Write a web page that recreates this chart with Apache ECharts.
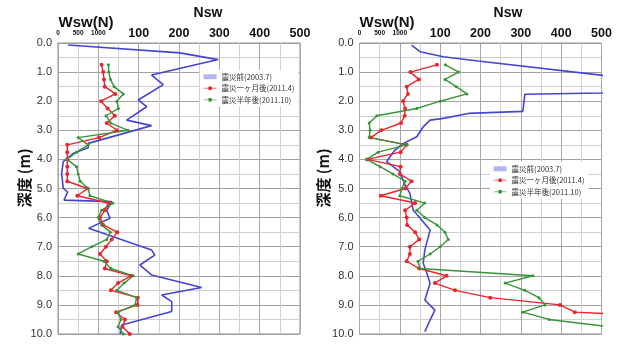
<!DOCTYPE html>
<html>
<head>
<meta charset="utf-8">
<script src="https://cdn.jsdelivr.net/npm/echarts@6/dist/echarts.min.js"></script>
<style>
  html, body { margin: 0; padding: 0; background: #fff; }
  #chart { width: 622px; height: 347px; }
</style>
</head>
<body>
<div id="chart"></div>
<script>
// Combined horizontal scale: -100..0 holds Wsw (0, 500, 1000 N), 0..500 holds Nsw.
var xTickLabels = { '-100': '0', '-50': '500', '0': '1000', '100': '100', '200': '200', '300': '300', '400': '400', '500': '500' };
var depthTicks = ['0.0','1.0','2.0','3.0','4.0','5.0','6.0','7.0','8.0','9.0','10.0'];

var seriesNames = ['震災前(2003.7)', '震災一ヶ月後(2011.4)', '震災半年後(2011.10)'];

// Sounding depths (m) for the post-earthquake surveys
var depths = [0.75, 1.00, 1.25, 1.50, 1.75, 2.00, 2.25, 2.50, 2.75, 3.00,
              3.25, 3.50, 3.75, 4.00, 4.25, 4.50, 4.75, 5.00, 5.25, 5.50,
              5.75, 6.00, 6.25, 6.50, 6.75, 7.00, 7.25, 7.50, 7.75, 8.00,
              8.25, 8.50, 8.75, 9.00, 9.25, 9.50, 9.75, 10.00];

// --- Site A (left panel) ---
var leftBeforeDepth = [0.07, 0.34, 0.57, 1.10, 1.43, 1.96, 2.19, 2.65, 2.84, 3.45, 3.60, 3.79, 4.08, 4.48, 4.99, 5.12, 5.40, 5.45, 5.75, 6.02, 6.37, 7.11, 7.29, 7.63, 7.97, 8.40, 8.66, 8.89, 9.23, 9.69, 10.0];
var leftBeforeValue = [-75, 202, 297, 132, 161, 99, 120, 70, 132, -25, -25, -62, -87, -91, -87, -76, -85, 33, 21, 29, -24, 132, 140, 103, 132, 256, 157, 182, 182, 58, 54];
var leftMonth = [8, 12, 14, 16, 42, 7, 23, 41, 21, 46,
                 2, -77, -77, -77, -77, -77, -77, -27, -52, 25,
                 16, 4, 12, 47, 33, 19, 4, 21, 16, 81,
                 49, 31, 98, 97, 44, 66, 60, 78];
var leftHalfYear = [25, 26, 30, 39, 62, 46, 50, 19, 31, 74,
                    -50, -25, -54, -78, -54, -50, -45, -25, -21, 36,
                    8, 0, 8, 30, 21, -16, -50, 14, 31, 87,
                    64, 46, 95, 91, 49, 56, 49, 62];

// --- Site B (right panel) ---
var rightBeforeDepth = [0.07, 0.30, 0.47, 0.62, 1.30, 1.60, 1.72, 1.76, 2.35, 2.42, 2.59, 2.65, 2.88, 3.22, 3.45, 3.68, 3.90, 4.08, 4.42, 4.88, 5.17, 5.74, 6.08, 6.43, 7.11, 7.57, 7.91, 8.26, 8.83, 9.18, 9.52, 9.92];
var rightBeforeValue = [29, 50, 108, 194, 620, 620, 500, 310, 305, 170, 108, 75, 58, 42, 9, -12, -24, -33, 0, 13, 25, 33, 54, 75, 62, 58, 67, 75, 62, 87, 75, 62];
var rightMonth = [92, 26, 47, 17, 20, 8, 13, 12, 3, -46,
                  -72, 17, 2, -81, 2, 0, 29, 13, -47, 38,
                  13, 17, 18, 38, 48, 25, 25, 17, 48, 116,
                  87, 137, 224, 397, 434, 800, 800, 800];
var rightHalfYear = [113, 146, 112, 140, 166, 100, 42, -57, -76, -74,
                     -76, 17, -54, -82, -49, -17, 13, 5, 0, 62,
                     42, 62, 92, 112, 120, 100, 75, 45, 50, 330,
                     261, 310, 345, 360, 305, 370, 520, 520];

var COLORS = { before: '#4545d4', month: '#e8262c', half: '#379437' };
var LEGEND_ICON = { before: '#b4b4f0', month: '#f28c8c', half: '#9ccf9c' };

function pairs(ys, xs) {
  var out = [];
  for (var i = 0; i < xs.length; i++) out.push([xs[i], ys[i]]);
  return out;
}

var chart = echarts.init(document.getElementById('chart'), null, { renderer: 'canvas' });

var FONT = '"Liberation Sans", Arial, sans-serif';
var GRID_W = 242, GRID_TOP = 43, GRID_H = 291;
var panels = [
  { left: 58, before: [leftBeforeDepth, leftBeforeValue], month: leftMonth, half: leftHalfYear },
  { left: 359.5, before: [rightBeforeDepth, rightBeforeValue], month: rightMonth, half: rightHalfYear }
];

var grids = [], xAxes = [], yAxes = [], series = [];
panels.forEach(function (p, gi) {
  grids.push({ left: p.left, top: GRID_TOP, width: GRID_W, height: GRID_H, containLabel: false,
               show: true, borderColor: '#8c8c8c', borderWidth: 1, backgroundColor: '#fff' });
  // labelled axis with the fine grid (every 50 units)
  xAxes.push({
    type: 'value', gridIndex: gi, position: 'top', min: -100, max: 500, interval: 50,
    axisLine: { show: false }, axisTick: { show: false },
    splitLine: { show: true, lineStyle: { color: '#d2d2d2', width: 1 } },
    axisLabel: {
      margin: 3, fontFamily: FONT,
      formatter: function (v) {
        var t = xTickLabels[String(v)];
        if (t === undefined) return '';
        return v <= 0 ? '{s|' + t + '}' : '{b|' + t + '}';
      },
      rich: {
        s: { fontSize: 6.5, fontWeight: 'bold', color: '#111', fontFamily: FONT, padding: [0, 0, 3, 0] },
        b: { fontSize: 12.5, fontWeight: 'bold', color: '#111', fontFamily: FONT }
      }
    }
  });
  // coarse grid (every 100 units)
  xAxes.push({
    type: 'value', gridIndex: gi, position: 'top', min: -100, max: 500, interval: 100,
    axisLine: { show: false }, axisTick: { show: false }, axisLabel: { show: false },
    splitLine: { show: true, lineStyle: { color: '#a8a8a8', width: 1 } }
  });
  yAxes.push({
    type: 'value', gridIndex: gi, position: 'left', inverse: true, min: 0, max: 10, interval: 0.5,
    axisLine: { show: false }, axisTick: { show: false }, axisLabel: { show: false },
    splitLine: { show: true, lineStyle: { color: '#cfcfcf', width: 1 } }
  });
  yAxes.push({
    type: 'value', gridIndex: gi, position: 'left', inverse: true, min: 0, max: 10, interval: 1,
    axisLine: { show: false }, axisTick: { show: false },
    splitLine: { show: true, lineStyle: { color: '#a0a0a0', width: 1.2 } },
    axisLabel: {
      margin: 6, fontSize: 11, color: '#333', fontFamily: FONT,
      formatter: function (v) { return depthTicks[Math.round(v)]; }
    }
  });
  var xi = gi * 2, yi = gi * 2 + 1;
  series.push({
    name: seriesNames[0], type: 'line', xAxisIndex: xi, yAxisIndex: yi,
    data: pairs(p.before[0], p.before[1]), showSymbol: false, symbol: 'none',
    lineStyle: { color: COLORS.before, width: 1.6 }, itemStyle: { color: COLORS.before },
    animation: false, z: 3
  });
  series.push({
    name: seriesNames[1], type: 'line', xAxisIndex: xi, yAxisIndex: yi,
    data: pairs(depths, p.month), symbol: 'circle', symbolSize: 4,
    lineStyle: { color: COLORS.month, width: 1.4 }, itemStyle: { color: COLORS.month },
    animation: false, z: 4
  });
  series.push({
    name: seriesNames[2], type: 'line', xAxisIndex: xi, yAxisIndex: yi,
    data: pairs(depths, p.half), symbol: 'circle', symbolSize: 3,
    lineStyle: { color: COLORS.half, width: 1.4 }, itemStyle: { color: COLORS.half },
    animation: false, z: 4
  });
});

function legendOf(left, top) {
  return {
    left: left, top: top, orient: 'vertical', itemGap: 4, itemWidth: 13, itemHeight: 5,
    padding: [3, 4, 3, 3], backgroundColor: '#fff', selectedMode: false,
    textStyle: { fontSize: 7.5, color: '#333', fontFamily: '"Noto Sans CJK JP", sans-serif' },
    data: [
      { name: seriesNames[0], icon: 'rect', itemStyle: { color: LEGEND_ICON.before } },
      { name: seriesNames[1], itemStyle: { color: COLORS.month }, lineStyle: { color: LEGEND_ICON.month, width: 1.2 } },
      { name: seriesNames[2], itemStyle: { color: COLORS.half }, lineStyle: { color: LEGEND_ICON.half, width: 1.2 } }
    ]
  };
}

function txt(x, y, s, size, extra) {
  var st = { text: s, x: x, y: y, fill: '#111', font: 'bold ' + size + 'px ' + FONT, textAlign: 'center', textVerticalAlign: 'middle' };
  if (extra) for (var k in extra) st[k] = extra[k];
  return { type: 'text', style: st, z: 10 };
}

var graphics = [
  txt(86, 23, 'Wsw(N)', 15), txt(208, 13, 'Nsw', 14),
  txt(387, 23, 'Wsw(N)', 15), txt(508, 13, 'Nsw', 14),
  { type: 'text', x: 24, y: 178, rotation: Math.PI / 2, z: 10,
    style: { text: '深度 (m)', fill: '#111', font: 'bold 15px "Noto Sans CJK JP", sans-serif', textAlign: 'center', textVerticalAlign: 'middle' } },
  { type: 'text', x: 323, y: 178, rotation: Math.PI / 2, z: 10,
    style: { text: '深度 (m)', fill: '#111', font: 'bold 15px "Noto Sans CJK JP", sans-serif', textAlign: 'center', textVerticalAlign: 'middle' } }
];

chart.setOption({
  animation: false,
  backgroundColor: '#fff',
  grid: grids,
  xAxis: xAxes,
  yAxis: yAxes,
  legend: [legendOf(200, 70), legendOf(490, 162)],
  series: series,
  graphic: graphics
});
</script>
</body>
</html>
